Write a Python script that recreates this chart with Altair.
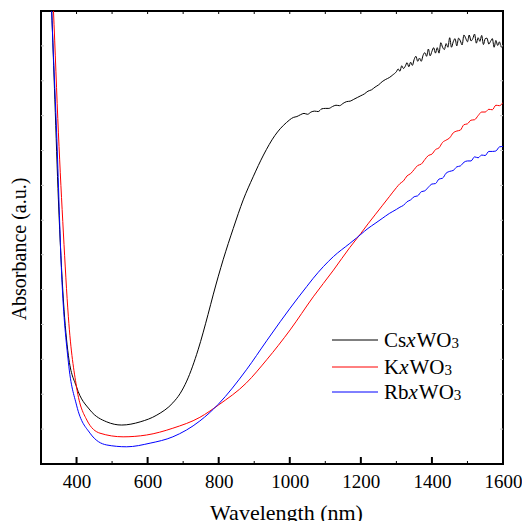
import altair as alt
import pandas as pd

# ---------------- data ----------------
series = ["Cs", "K", "Rb"]
colors = ["#000000", "#ff0000", "#0000ff"]

cs_wl = [320, 330, 339, 349, 363, 377, 400, 438, 485, 527, 579, 626, 671, 691, 710, 742,
         770, 785, 813, 841, 869, 897, 926, 958, 973, 991,
         1000, 1010, 1020, 1030, 1040, 1050, 1060, 1070, 1080, 1090, 1100, 1110, 1120, 1130,
         1140, 1150, 1160, 1170, 1180, 1190, 1200, 1210, 1220, 1230, 1240, 1250, 1260, 1270,
         1280, 1290,
         1300, 1305, 1310, 1315, 1320, 1325, 1330, 1335, 1340, 1345, 1350, 1355, 1360, 1365,
         1370, 1375, 1380, 1385, 1390, 1395, 1400, 1405, 1410, 1415, 1420, 1425, 1430, 1435,
         1440, 1445, 1450, 1455, 1460, 1465, 1470, 1475, 1480, 1485, 1490, 1495, 1500, 1505,
         1510, 1515, 1520, 1525, 1530, 1535, 1540, 1545, 1550, 1555, 1560, 1565, 1570, 1575,
         1580, 1585, 1590, 1595, 1600]
cs_val = [1.19, 1.002, 0.804, 0.583, 0.362, 0.240, 0.170, 0.119, 0.093, 0.086, 0.093, 0.108,
          0.135, 0.155, 0.183, 0.252, 0.330, 0.375, 0.452, 0.520, 0.583, 0.634, 0.682, 0.725,
          0.740, 0.754,
          0.760, 0.765, 0.767, 0.771, 0.774, 0.772, 0.777, 0.779, 0.778, 0.784, 0.785, 0.785,
          0.789, 0.792, 0.791, 0.796, 0.800, 0.801, 0.805, 0.809, 0.813, 0.817, 0.823, 0.826,
          0.832, 0.837, 0.844, 0.849, 0.853, 0.859,
          0.866, 0.872, 0.867, 0.879, 0.873, 0.878, 0.886, 0.877, 0.887, 0.880, 0.893, 0.900,
          0.889, 0.896, 0.889, 0.902, 0.908, 0.900, 0.916, 0.901, 0.911, 0.919, 0.907, 0.919,
          0.907, 0.930, 0.920, 0.915, 0.928, 0.920, 0.941, 0.920, 0.932, 0.939, 0.923, 0.940,
          0.934, 0.925, 0.947, 0.940, 0.932, 0.947, 0.934, 0.939, 0.949, 0.929, 0.941, 0.933,
          0.946, 0.926, 0.939, 0.940, 0.927, 0.933, 0.939, 0.920, 0.935, 0.924, 0.932, 0.920,
          0.928]

k_wl = [320, 335, 349, 363, 377, 400, 429, 466, 531, 597, 671, 747, 799, 878, 935, 1001,
        1066, 1123, 1169, 1188, 1200, 1220, 1240, 1260, 1280,
        1300, 1310, 1320, 1330, 1340, 1350, 1360, 1370, 1380, 1390, 1400, 1410, 1420, 1430,
        1440, 1450, 1460, 1470, 1480, 1490, 1500, 1510, 1520, 1530, 1540, 1550, 1560, 1570,
        1580, 1590, 1600]
k_val = [1.25, 1.002, 0.731, 0.510, 0.325, 0.170, 0.097, 0.068, 0.060, 0.064, 0.079, 0.103,
         0.130, 0.179, 0.230, 0.296, 0.369, 0.428, 0.478, 0.497, 0.509, 0.530, 0.550, 0.570,
         0.590,
         0.610, 0.619, 0.625, 0.636, 0.641, 0.650, 0.659, 0.662, 0.672, 0.681, 0.684, 0.694,
         0.698, 0.710, 0.715, 0.720, 0.731, 0.735, 0.737, 0.749, 0.751, 0.759, 0.760, 0.769,
         0.777, 0.777, 0.783, 0.782, 0.792, 0.791, 0.798]

rb_wl = [320, 330, 344, 358, 377, 400, 438, 485, 541, 607, 671, 747, 799, 878, 935, 973,
         1001, 1048, 1066, 1123, 1169, 1188, 1200, 1220, 1240, 1260, 1280,
         1300, 1310, 1320, 1330, 1340, 1350, 1360, 1370, 1380, 1390, 1400, 1410, 1420, 1430,
         1440, 1450, 1460, 1470, 1480, 1490, 1500, 1510, 1520, 1530, 1540, 1550, 1560, 1570,
         1580, 1590, 1600]
rb_val = [1.25, 1.002, 0.731, 0.420, 0.225, 0.130, 0.068, 0.042, 0.038, 0.046, 0.060, 0.095,
          0.132, 0.208, 0.272, 0.314, 0.344, 0.392, 0.410, 0.458, 0.487, 0.499, 0.507, 0.520,
          0.531, 0.542, 0.553,
          0.562, 0.567, 0.571, 0.579, 0.583, 0.590, 0.592, 0.601, 0.603, 0.611, 0.618, 0.619,
          0.629, 0.631, 0.642, 0.646, 0.648, 0.656, 0.658, 0.666, 0.669, 0.669, 0.678, 0.676,
          0.682, 0.681, 0.690, 0.690, 0.691, 0.700, 0.701]

x_labels = [400, 600, 800, 1000, 1200, 1400, 1600]
x_minor = [500, 700, 900, 1100, 1300, 1500]
x_top = [400, 500, 600, 700, 800, 900, 1000, 1100, 1200, 1300, 1400, 1500]
y_ticks = [0.077, 0.154, 0.231, 0.308, 0.385, 0.462, 0.538, 0.615, 0.692, 0.769, 0.846, 0.923]

# ---------------- layout constants ----------------
W, H = 462, 453
FONT = "Liberation Serif"
LEG_FS = 21
em = {"Cs": 0.667 + 0.389, "K": 0.722, "Rb": 0.667 + 0.5}
EM_X = 0.444
EM_WO = 0.944 + 0.722
leg_y = [329, 356, 381]
leg_x0 = 343

rows = []
for s, wl, v in [("Cs", cs_wl, cs_val), ("K", k_wl, k_val), ("Rb", rb_wl, rb_val)]:
    for a, b in zip(wl, v):
        rows.append({"series": s, "wl": a, "val": b})
df = pd.DataFrame(rows)

leg = pd.DataFrame({
    "series": series,
    "y": leg_y,
    "ty": [y + 7 for y in leg_y],
    "x1": [291] * 3,
    "x2": [337] * 3,
    "xp": [leg_x0] * 3,
    "xx": [leg_x0 + em[s] * LEG_FS for s in series],
    "xw": [leg_x0 + (em[s] + EM_X) * LEG_FS + 1 for s in series],
    "x3": [leg_x0 + (em[s] + EM_X + EM_WO) * LEG_FS + 1 for s in series],
})

xscale = alt.Scale(domain=[300, 1600], nice=False, zero=False)
yscale = alt.Scale(domain=[0, 1], nice=False, zero=False)
cscale = alt.Scale(domain=series, range=colors)

lines = alt.Chart(df).mark_line(strokeWidth=1, clip=True, interpolate="monotone").encode(
    x=alt.X("wl:Q", scale=xscale, axis=alt.Axis(
        values=x_labels, format="d", ticks=False, tickSize=0, domain=False, grid=False,
        labelFont=FONT, labelFontSize=19, labelColor="black", labelPadding=23,
        labelBaseline="alphabetic", labelFlush=False, labelOverlap=False,
        title="Wavelength (nm)", titleFont=FONT, titleFontSize=22, titleFontWeight="normal",
        titleColor="black", titleX=245, titleY=55, titleBaseline="alphabetic")),
    y=alt.Y("val:Q", scale=yscale, axis=alt.Axis(
        labels=False, ticks=False, domain=False, grid=False,
        title="Absorbance (a.u.)", titleFont=FONT, titleFontSize=20, titleFontWeight="normal",
        titleColor="black", titleX=-16, titleY=237.5, titleAngle=270,
        titleBaseline="alphabetic")),
    color=alt.Color("series:N", scale=cscale, legend=None),
    detail="series:N",
)

bot_major = alt.Chart(pd.DataFrame({"t": x_labels})).mark_rule(color="black", strokeWidth=2).encode(
    x=alt.X("t:Q", scale=xscale), y=alt.value(H), y2=alt.value(H - 7))
bot_minor = alt.Chart(pd.DataFrame({"t": x_minor})).mark_rule(color="black", strokeWidth=1).encode(
    x=alt.X("t:Q", scale=xscale), y=alt.value(H), y2=alt.value(H - 3))
top_ticks = alt.Chart(pd.DataFrame({"t": x_top})).mark_rule(color="black", strokeWidth=1).encode(
    x=alt.X("t:Q", scale=xscale), y=alt.value(0), y2=alt.value(3))
left_ticks = alt.Chart(pd.DataFrame({"v": y_ticks})).mark_rule(color="#c8c8c8", strokeWidth=1).encode(
    y=alt.Y("v:Q", scale=yscale), x=alt.value(0), x2=alt.value(3))
right_ticks = alt.Chart(pd.DataFrame({"v": y_ticks})).mark_rule(color="#c8c8c8", strokeWidth=1).encode(
    y=alt.Y("v:Q", scale=yscale), x=alt.value(W), x2=alt.value(W - 3))

legbase = alt.Chart(leg)
leg_lines = legbase.mark_rule(strokeWidth=1).encode(
    x=alt.X("x1:Q", scale=None), x2="x2:Q", y=alt.Y("y:Q", scale=None),
    color=alt.Color("series:N", scale=cscale, legend=None))
leg_p = legbase.mark_text(font=FONT, fontSize=LEG_FS, align="left", baseline="alphabetic",
                          color="black").encode(
    x=alt.X("xp:Q", scale=None), y=alt.Y("ty:Q", scale=None), text="series:N")
leg_x = legbase.mark_text(font=FONT, fontSize=LEG_FS, fontStyle="italic", align="left",
                          baseline="alphabetic", color="black", text="x").encode(
    x=alt.X("xx:Q", scale=None), y=alt.Y("ty:Q", scale=None))
leg_w = legbase.mark_text(font=FONT, fontSize=LEG_FS, align="left", baseline="alphabetic",
                          color="black", text="WO").encode(
    x=alt.X("xw:Q", scale=None), y=alt.Y("ty:Q", scale=None))
leg_3 = legbase.mark_text(font=FONT, fontSize=15, align="left", baseline="alphabetic",
                          color="black", text="3", dy=1).encode(
    x=alt.X("x3:Q", scale=None), y=alt.Y("ty:Q", scale=None))

chart = alt.layer(
    lines, bot_major, bot_minor, top_ticks, left_ticks, right_ticks,
    leg_lines, leg_p, leg_x, leg_w, leg_3
).properties(
    width=W, height=H,
    autosize=alt.AutoSizeParams(type="none"),
    padding={"left": 41, "top": 11, "right": 19, "bottom": 57},
    background="white",
).configure_view(stroke="black", strokeWidth=2)

chart.save("out.html", embed_options={"renderer": "svg", "actions": False})
